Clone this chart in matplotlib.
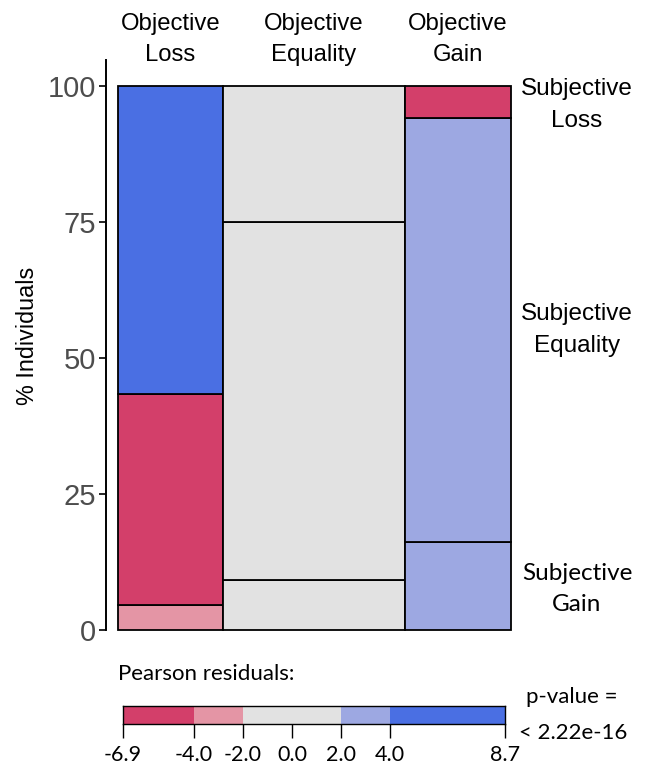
import matplotlib
matplotlib.use("Agg")
import matplotlib.pyplot as plt

# mosaic data: percentage of individuals per objective group (bottom -> top)
columns = ["Objective\nLoss", "Objective\nEquality", "Objective\nGain"]
col_widths = [0.267, 0.463, 0.270]
rows = ["Subjective\nGain", "Subjective\nEquality", "Subjective\nLoss"]
pct_loss = [4.6, 38.8, 56.6]
pct_equality = [9.2, 65.8, 25.0]
pct_gain = [16.2, 77.9, 5.9]
# residual bin of each cell (0 = strongest negative ... 4 = strongest positive)
bin_loss = [1, 0, 4]
bin_equality = [2, 2, 2]
bin_gain = [3, 3, 0]

# legend for Pearson residuals
bin_edges = [-6.9, -4.0, -2.0, 2.0, 4.0, 8.7]
bin_ticks = [-6.9, -4.0, -2.0, 0.0, 2.0, 4.0, 8.7]
bin_colors = ["#D33F6A", "#E495A5", "#E2E2E2", "#9DA8E2", "#4A6FE3"]

plt.rcParams['font.family'] = ['Liberation Sans', 'DejaVu Sans']
legend_font = ["Lato", "DejaVu Sans"]

W, H = 646, 771
fig = plt.figure(figsize=(W / 100, H / 100), dpi=100)


def rect(x0, y0, x1, y1):
    return [x0 / W, 1 - y1 / H, (x1 - x0) / W, (y1 - y0) / H]


ax = fig.add_axes(rect(106, 60, 511, 630))
ax.set_xlim(-12 / 393, 1.0)
ax.set_ylim(0, 570 / 5.44)

all_pct = [pct_loss, pct_equality, pct_gain]
all_bins = [bin_loss, bin_equality, bin_gain]
left = 0
for name, w, pct, bins in zip(columns, col_widths, all_pct, all_bins):
    bottom = 0
    for p, b in zip(pct, bins):
        ax.bar(left, p, w, bottom=bottom, align="edge", color=bin_colors[b],
               edgecolor="black", linewidth=1.3, clip_on=False)
        bottom += p
    ax.text(left + w / 2, 108.6, name, ha="center", va="center", fontsize=17.2,
            linespacing=1.55, clip_on=False)
    left += w

# row labels next to the last column (the bottom one is set in another font)
row_nudge = [-0.6, 0.0, -0.6]
row_fonts = [legend_font, None, None]
bottom = 0
for name, p, dy, fam in zip(rows, pct_gain, row_nudge, row_fonts):
    ax.text(1.168, bottom + p / 2 + dy, name, ha="center", va="center", fontsize=17.5,
            linespacing=1.6, clip_on=False, family=fam)
    bottom += p

for s in ["top", "right", "bottom"]:
    ax.spines[s].set_visible(False)
ax.spines["left"].set_linewidth(1.4)
ax.set_xticks([])
ax.set_yticks([0, 25, 50, 75, 100])
ax.tick_params(axis="y", labelsize=21, labelcolor="#4d4d4d", length=5, width=1.2, pad=2)
fig.text(28 / W, 1 - 336 / H, "% Individuals", rotation=90, ha="center", va="center",
         fontsize=16.8)

# residual legend
cax = fig.add_axes(rect(123, 706, 505, 724))
cax.set_xlim(bin_edges[0], bin_edges[-1])
cax.set_ylim(0, 1)
for lo, hi, c in zip(bin_edges[:-1], bin_edges[1:], bin_colors):
    cax.axvspan(lo, hi, color=c, lw=0)
for s in cax.spines.values():
    s.set_linewidth(1.0)
cax.set_yticks([])
cax.set_xticks(bin_ticks)
cax.set_xticklabels(["%.1f" % t for t in bin_ticks], family=legend_font)
cax.tick_params(axis="x", direction="out", length=10, width=1, labelsize=15.5, pad=5)

fig.text(118 / W, 1 - 674 / H, "Pearson residuals:", ha="left", va="center",
         fontsize=16, family=legend_font)
fig.text(572 / W, 1 - 697 / H, "p-value =", ha="center", va="center",
         fontsize=16, family=legend_font)
fig.text(573 / W, 1 - 733 / H, "< 2.22e-16", ha="center", va="center",
         fontsize=16, family=legend_font)

fig.savefig("out.png", dpi=100)
